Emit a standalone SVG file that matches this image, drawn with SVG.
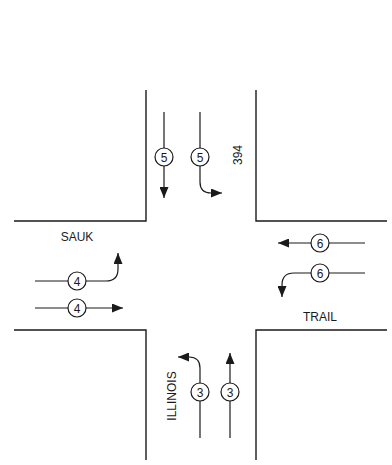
<svg xmlns="http://www.w3.org/2000/svg" width="392" height="465" viewBox="0 0 392 465">
<style>
.road{fill:none;stroke:#1a1a1a;stroke-width:1.4}
.flow{fill:none;stroke:#1a1a1a;stroke-width:1.2}
.c{fill:#fff;stroke:#1a1a1a;stroke-width:1.2}
.n{font-family:"Liberation Sans",Arial,sans-serif;font-size:12px;fill:#1a1a1a;text-anchor:middle}
.lbl{font-family:"Liberation Sans",Arial,sans-serif;font-size:12px;fill:#1a1a1a;text-anchor:middle}
</style>
<defs>
<marker id="ah" markerUnits="userSpaceOnUse" markerWidth="11" markerHeight="9" refX="11" refY="4.5" orient="auto">
<path d="M0,0 L11,4.5 L0,9 z" fill="#1a1a1a"/>
</marker>
</defs>
<rect width="392" height="465" fill="#fff"/>
<g id="roads">
<path class="road" d="M146,90 V221 H14"/>
<path class="road" d="M256,90 V221 H387"/>
<path class="road" d="M14,330 H146 V460"/>
<path class="road" d="M387,330 H256 V460"/>
</g>
<g id="connectors">
<path class="flow" d="M164,112 V198" marker-end="url(#ah)"/>
<path class="flow" d="M200,112 V182 Q200,193 211,193 L222,193" marker-end="url(#ah)"/>
<path class="flow" d="M35,281 H106 Q118,281 118,269 L118,253" marker-end="url(#ah)"/>
<path class="flow" d="M35,308 H123" marker-end="url(#ah)"/>
<path class="flow" d="M365,243 H278" marker-end="url(#ah)"/>
<path class="flow" d="M365,273 H294 Q282,273 282,285 L282,297" marker-end="url(#ah)"/>
<path class="flow" d="M230,438 V353" marker-end="url(#ah)"/>
<path class="flow" d="M200,438 V368 Q200,357 189,357 L178,357" marker-end="url(#ah)"/>
</g>
<g id="n5a"><circle class="c" cx="164" cy="157" r="9"/><text class="n" x="164" y="161.5">5</text></g>
<g id="n5b"><circle class="c" cx="200" cy="157" r="9"/><text class="n" x="200" y="161.5">5</text></g>
<g id="n4a"><circle class="c" cx="77" cy="281" r="9"/><text class="n" x="77" y="285.5">4</text></g>
<g id="n4b"><circle class="c" cx="77" cy="308" r="9"/><text class="n" x="77" y="312.5">4</text></g>
<g id="n6a"><circle class="c" cx="320" cy="243" r="9"/><text class="n" x="320" y="247.5">6</text></g>
<g id="n6b"><circle class="c" cx="320" cy="273" r="9"/><text class="n" x="320" y="277.5">6</text></g>
<g id="n3a"><circle class="c" cx="200" cy="392" r="9"/><text class="n" x="200" y="396.5">3</text></g>
<g id="n3b"><circle class="c" cx="230" cy="392" r="9"/><text class="n" x="230" y="396.5">3</text></g>
<g id="labels">
<text class="lbl" x="77" y="241">SAUK</text>
<text class="lbl" x="320" y="321">TRAIL</text>
<text class="lbl" transform="translate(242,155) rotate(-90)">394</text>
<text class="lbl" transform="translate(176,396) rotate(-90)">ILLINOIS</text>
</g>
</svg>
